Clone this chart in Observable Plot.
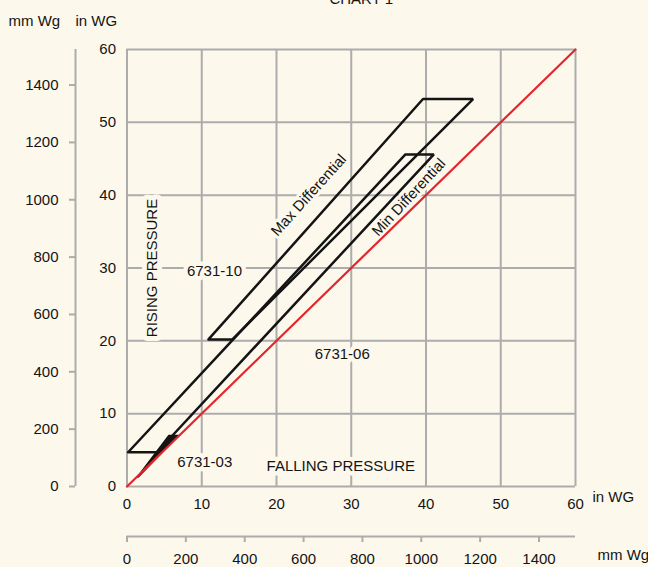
<!DOCTYPE html>
<html>
<head>
<meta charset="utf-8">
<script src="https://cdn.jsdelivr.net/npm/d3@7"></script>
<script src="https://cdn.jsdelivr.net/npm/@observablehq/plot@0.6"></script>
<style>
  html, body { margin: 0; padding: 0; background: #fdf8ec; }
  #chart { width: 648px; height: 567px; overflow: hidden; }
</style>
</head>
<body>
<div id="chart"></div>
<script>
// ---- data ----
const inTicks = [0, 10, 20, 30, 40, 50, 60];            // in WG
const mmTicks = [0, 200, 400, 600, 800, 1000, 1200, 1400]; // mm Wg
const MM_PER_IN = 25.4;

// Falling (x) / Rising (y) pressure, in WG
const model10 = [[10.9, 20.2], [14.1, 20.2], [46.3, 53.2], [39.6, 53.2]];
const model06 = [[0.15, 4.7], [4.0, 4.7], [41.05, 45.6], [37.25, 45.6]];
const model03 = [[1.4, 1.3], [1.5, 1.3], [6.9, 7.0], [5.6, 7.0]];
const equalLine = [0, 60];

const labelText = ["6731-10", "6731-06", "6731-03", "FALLING PRESSURE"];
const labelX = [11.7, 28.8, 10.4, 28.6];
const labelY = [29.6, 18.1, 3.3, 2.75];

const diffText = ["Max Differential", "Min Differential"];
const diffX = [24.3, 37.7];
const diffY = [40.0, 39.7];
const diffAngle = [-48, -47];

// ---- styles ----
const bg = "#fdf8ec";
const gray = "#acacac";
const ink = "#141414";
const font = "'Liberation Sans', Arial, Helvetica, sans-serif";
const fs = 15;

const closed = (pts) => pts.concat([pts[0]]);
const labels = labelText.map((t, i) => ({t, x: labelX[i], y: labelY[i]}));
const diffs = diffText.map((t, i) => ({t, x: diffX[i], y: diffY[i], a: diffAngle[i]}));

const chart = Plot.plot({
  width: 648,
  height: 567,
  marginLeft: 126.5,
  marginRight: 73,
  marginTop: 49,
  marginBottom: 81,
  style: {background: bg, fontFamily: font, fontSize: fs + "px", color: ink, overflow: "hidden"},
  x: {domain: [0, 60], axis: null, label: null},
  y: {domain: [0, 60], axis: null, label: null},
  marks: [
    // grid
    Plot.ruleX(inTicks, {stroke: gray, strokeWidth: 2}),
    Plot.ruleY(inTicks, {stroke: gray, strokeWidth: 2}),
    // annotation labels with background halo
    Plot.text(labels, {x: "x", y: "y", text: "t", fontSize: fs, fill: ink, stroke: bg, strokeWidth: 9}),
    Plot.text(["RISING PRESSURE"], {x: () => 3.4, y: () => 30.0, rotate: -90, fontSize: fs, fill: ink, stroke: bg, strokeWidth: 10}),
    ...diffs.map(d => Plot.text([d], {x: "x", y: "y", text: "t", rotate: d.a, fontSize: fs, fill: ink, stroke: bg, strokeWidth: 6})),
    // switch ranges
    Plot.line(closed(model10), {x: d => d[0], y: d => d[1], stroke: ink, strokeWidth: 2.5, strokeLinejoin: "miter"}),
    Plot.line(closed(model06), {x: d => d[0], y: d => d[1], stroke: ink, strokeWidth: 2.5, strokeLinejoin: "miter"}),
    Plot.line(closed(model03), {x: d => d[0], y: d => d[1], stroke: ink, fill: ink, strokeWidth: 1.5, strokeLinejoin: "miter"}),
    // rising = falling
    Plot.line(equalLine, {x: d => d, y: d => d, stroke: "#e3262d", strokeWidth: 2.2}),
    // in WG axes
    Plot.axisY(inTicks, {anchor: "left", label: null, tickSize: 0, tickPadding: 11, fontSize: fs, fill: ink}),
    Plot.axisX(inTicks, {anchor: "bottom", label: null, tickSize: 0, tickPadding: 12, fontSize: fs, fill: ink}),
    // mm Wg axes
    Plot.ruleX([0], {dx: -51.5, stroke: gray, strokeWidth: 2}),
    Plot.axisY(mmTicks.map(m => m / MM_PER_IN), {anchor: "left", label: null, dx: -51.5, tickSize: 6, tickPadding: 11,
      tickFormat: d => String(Math.round(d * MM_PER_IN)), stroke: gray, strokeWidth: 2, fill: ink, fontSize: fs}),
    Plot.ruleY([0], {dy: 50, stroke: gray, strokeWidth: 2}),
    Plot.axisX(mmTicks.map(m => m / MM_PER_IN), {anchor: "bottom", label: null, dy: 50, tickSize: 6, tickPadding: 11,
      tickFormat: d => String(Math.round(d * MM_PER_IN)), stroke: gray, strokeWidth: 2, fill: ink, fontSize: fs}),
    // unit labels and title
    Plot.text(["mm Wg"], {frameAnchor: "top-left", dx: -118.5, dy: -34, textAnchor: "start", fontSize: fs, fill: ink}),
    Plot.text(["in WG"], {frameAnchor: "top-left", dx: -51.5, dy: -34, textAnchor: "start", fontSize: fs, fill: ink}),
    Plot.text(["in WG"], {frameAnchor: "bottom-right", dx: 17, dy: 15, textAnchor: "start", fontSize: fs, fill: ink}),
    Plot.text(["mm Wg"], {frameAnchor: "bottom-right", dx: 22, dy: 73, textAnchor: "start", fontSize: fs, fill: ink}),
    Plot.text(["CHART 1"], {frameAnchor: "top", dx: 10, dy: -46, lineAnchor: "bottom", fontSize: fs, fill: ink})
  ]
});
document.getElementById("chart").appendChild(chart);
</script>
</body>
</html>
